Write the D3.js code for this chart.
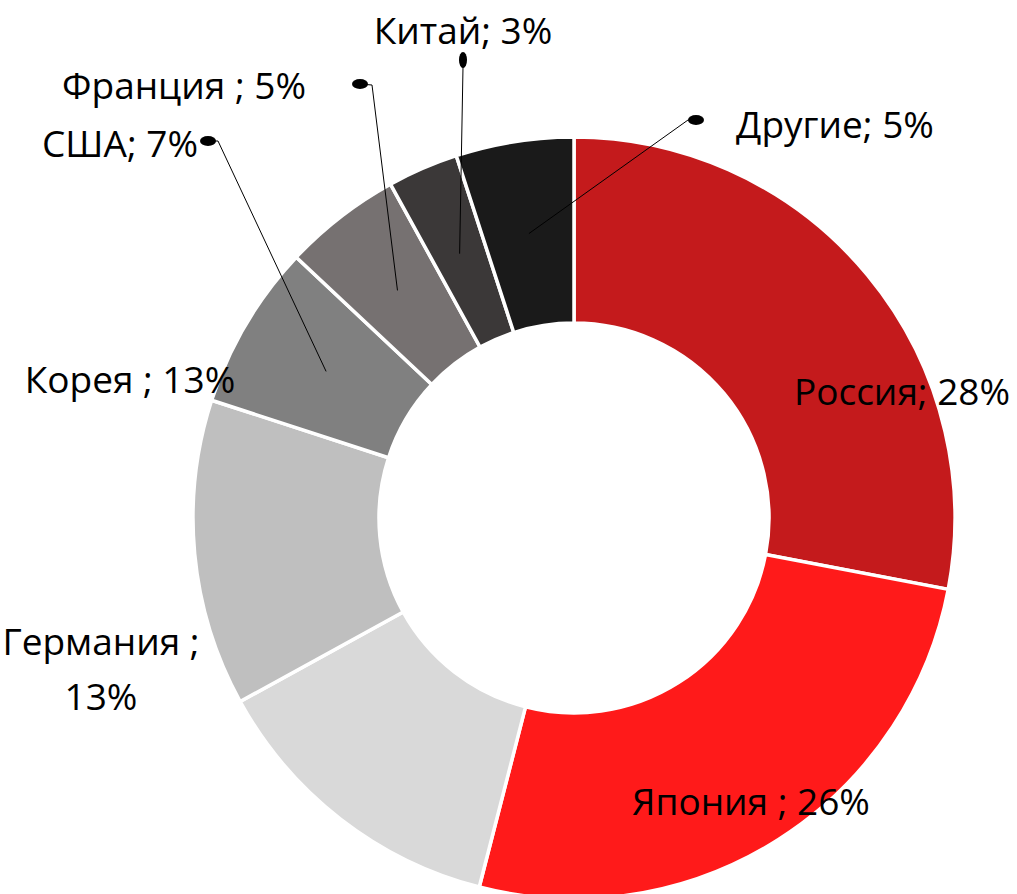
<!DOCTYPE html>
<meta charset="utf-8">
<style>
  body { margin: 0; background: #fff; }
  text { font-family: "Open Sans", Lato, sans-serif; fill: #000; }
</style>
<svg width="1017" height="894"></svg>
<script src="https://d3js.org/d3.v7.min.js"></script>
<script>

// data
var countries = ["Россия", "Япония", "Германия", "Корея", "США", "Франция", "Китай", "Другие"],
    shares = [28, 26, 13, 13, 7, 5, 3, 5],
    labels = [["Россия; 28%"], ["Япония ; 26%"], ["Германия ;", "13%"], ["Корея ; 13%"],
              ["США; 7%"], ["Франция ; 5%"], ["Китай; 3%"], ["Другие; 5%"]];

var colors = ["#c41a1c", "#ff1a1a", "#d9d9d9", "#bfbfbf", "#808080", "#767171", "#3b3838", "#1a1a1a"];

// label placement (text anchor point, leader dot) – layout only
var labelPos = [
  {x: 902, y: 405},
  {x: 751, y: 815},
  {x: 101, y: 655},
  {x: 130, y: 393},
  {x: 120, y: 157, dot: [208, 141], elbow: [218, 141]},
  {x: 184, y: 99, dot: [360, 84], elbow: [372, 85]},
  {x: 463, y: 44, dot: [463, 60], elbow: [463, 67], tall: true},
  {x: 835, y: 138, dot: [696, 120], elbow: [688, 120]}
];

var width = 1017, height = 894,
    cx = 574, cy = 518,
    outerR = 381, innerR = 195;

var svg = d3.select("svg");

var pie = d3.pie().sort(null).value(function(d) { return d; });
var arc = d3.arc().innerRadius(innerR).outerRadius(outerR);

var arcs = pie(shares);

var g = svg.append("g").attr("transform", "translate(" + cx + "," + cy + ")");

g.selectAll("path.slice")
  .data(arcs)
  .enter().append("path")
    .attr("class", "slice")
    .attr("d", arc)
    .attr("fill", function(d, i) { return colors[i]; })
    .attr("stroke", "#fff")
    .attr("stroke-width", 3.5)
    .attr("stroke-linejoin", "miter");

// leader lines
arcs.forEach(function(d, i) {
  var p = labelPos[i];
  if (!p.dot) return;
  var c = arc.centroid(d);
  svg.append("polyline")
    .attr("points", [p.dot, p.elbow, [cx + c[0], cy + c[1]]].map(function(q) { return q.join(","); }).join(" "))
    .attr("fill", "none")
    .attr("stroke", "#000")
    .attr("stroke-width", 1);
  svg.append("ellipse")
    .attr("cx", p.dot[0]).attr("cy", p.dot[1])
    .attr("rx", p.tall ? 4 : 8).attr("ry", p.tall ? 8 : 5)
    .attr("fill", "#000");
});

// labels
labels.forEach(function(lines, i) {
  var p = labelPos[i];
  var t = svg.append("text")
    .attr("x", p.x).attr("y", p.y)
    .attr("text-anchor", "middle")
    .style("font-size", "37px");
  lines.forEach(function(s, j) {
    t.append("tspan").attr("x", p.x).attr("dy", j ? 55 : 0).text(s);
  });
});

</script>
